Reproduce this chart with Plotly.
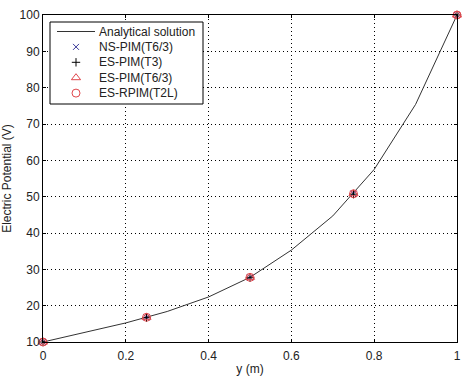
import plotly.graph_objects as go

# Analytical solution
y_exact = [0.0, 0.1, 0.2, 0.3, 0.4, 0.5, 0.6, 0.7, 0.8, 0.9, 1.0]
v_exact = [10.0, 12.6, 15.25, 18.4, 22.4, 27.8, 35.3, 44.7, 57.5, 75.4, 100.0]

# Numerical results
y_num = [0.0, 0.25, 0.5, 0.75, 1.0]
v_nspim_t63 = [10.0, 16.8, 27.8, 50.8, 100.0]
v_espim_t3 = [10.0, 16.7, 27.7, 50.7, 100.0]
v_espim_t63 = [10.0, 16.8, 27.8, 50.8, 100.0]
v_esrpim_t2l = [10.0, 16.8, 27.8, 50.8, 100.0]

series_names = ["Analytical solution", "NS-PIM(T6/3)", "ES-PIM(T3)", "ES-PIM(T6/3)", "ES-RPIM(T2L)"]

x_ticks = [0, 0.2, 0.4, 0.6, 0.8, 1]
x_tick_labels = ["0", "0.2", "0.4", "0.6", "0.8", "1"]
y_ticks = [10, 20, 30, 40, 50, 60, 70, 80, 90, 100]

red = "#e0474c"
blue = "#3a3a9a"
line_col = "#333333"

styles = [
    None,
    dict(symbol="x-thin-open", size=6, color=blue, line=dict(width=1, color=blue)),
    dict(symbol="cross-thin-open", size=6, color="black", line=dict(width=1, color="black")),
    dict(symbol="triangle-up-open", size=8, color=red, line=dict(width=1, color=red)),
    dict(symbol="circle-open", size=8, color=red, line=dict(width=1, color=red)),
]

fig = go.Figure()
fig.add_trace(go.Scatter(x=y_exact, y=v_exact, mode="lines", name=series_names[0],
                         line=dict(color=line_col, width=1), cliponaxis=False))
for vals, name, st in zip([v_nspim_t63, v_espim_t3, v_espim_t63, v_esrpim_t2l], series_names[1:], styles[1:]):
    fig.add_trace(go.Scatter(x=y_num, y=vals, mode="markers", name=name, marker=st, cliponaxis=False))

# ---- custom legend drawn on an overlay axis measured in pixels of the plot area ----
PLOT_W, PLOT_H = 414, 327
box_x0, box_x1, box_y0, box_y1 = 7, 160, 7, 89
row_y = [16.5, 31.9, 47.3, 62.7, 78.1]
sym_x = 33
line_x0, line_x1 = 14, 52
text_x = 54

fig.add_trace(go.Scatter(x=[box_x0, box_x1, box_x1, box_x0, box_x0],
                         y=[box_y0, box_y0, box_y1, box_y1, box_y0],
                         xaxis="x2", yaxis="y2", mode="lines", fill="toself", fillcolor="white",
                         line=dict(color="black", width=1), showlegend=False, hoverinfo="skip"))
fig.add_trace(go.Scatter(x=[line_x0, line_x1], y=[row_y[0], row_y[0]], xaxis="x2", yaxis="y2",
                         mode="lines", line=dict(color=line_col, width=1), showlegend=False,
                         hoverinfo="skip"))
for ry, st in zip(row_y[1:], styles[1:]):
    fig.add_trace(go.Scatter(x=[sym_x], y=[ry], xaxis="x2", yaxis="y2", mode="markers",
                             marker=st, showlegend=False, hoverinfo="skip"))
for ry, name in zip(row_y, series_names):
    fig.add_annotation(x=text_x, y=ry, xref="x2", yref="y2", text=name, showarrow=False,
                       xanchor="left", yanchor="middle",
                       font=dict(family="Liberation Sans, Arial", size=12, color="#222"))

axis_common = dict(showline=True, mirror="ticks", linecolor="black", linewidth=1,
                   ticks="inside", ticklen=3, tickcolor="black", automargin=False,
                   showgrid=True, gridcolor="black", griddash="1px,3px", gridwidth=1,
                   zeroline=False, tickfont=dict(family="Liberation Sans, Arial", size=12, color="#222"))

fig.update_layout(
    width=466, height=376,
    margin=dict(l=43, r=9, t=15, b=34),
    paper_bgcolor="white", plot_bgcolor="white",
    font=dict(family="Liberation Sans, Arial", size=12, color="#222"),
    xaxis=dict(range=[0, 1], tickvals=x_ticks, ticktext=x_tick_labels, ticklabelstandoff=3,
               title=dict(text="y (m)", standoff=3, font=dict(size=12)), **axis_common),
    yaxis=dict(range=[10, 100], tickvals=y_ticks,
               title=dict(text="Electric Potential (V)", standoff=8, font=dict(size=12)), **axis_common),
    xaxis2=dict(overlaying="x", range=[0, PLOT_W], visible=False, fixedrange=True),
    yaxis2=dict(overlaying="y", range=[PLOT_H, 0], visible=False, fixedrange=True),
    showlegend=False,
)
fig.write_html("out.html")
